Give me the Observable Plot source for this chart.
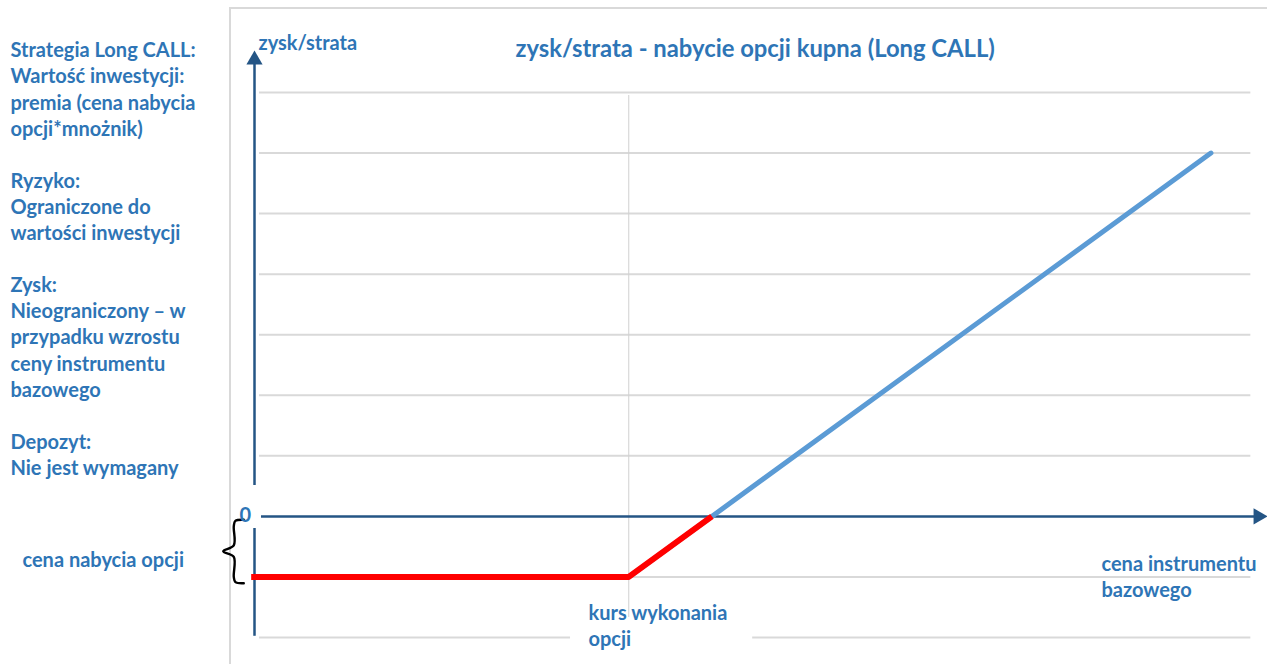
<!DOCTYPE html>
<html><head><meta charset="utf-8">
<script src="https://cdn.jsdelivr.net/npm/d3@7"></script>
<script src="https://cdn.jsdelivr.net/npm/@observablehq/plot@0.6"></script>
<style>
body{margin:0;background:#fff;}
#wrap{position:relative;width:1267px;height:664px;overflow:hidden;background:#fff;}
#frame{position:absolute;left:229px;top:7px;right:-5px;bottom:-5px;border-left:2px solid #d9d9d9;border-top:2px solid #d9d9d9;}
#wrap svg{position:absolute;left:0;top:0;}
</style></head><body><div id="wrap"><div id="frame"></div></div>
<script>
// ---- data ----
const payoffX = [6, 10, 17];          // cena instrumentu bazowego (blue payoff line)
const payoffY = [-1, -1, 6];          // zysk/strata
const lossX = [5.46, 10, 11];         // red: loss zone up to break-even
const lossY = [-1, -1, 0];
const gridY = [-2, -1, 1, 2, 3, 4, 5, 6, 7];
const gridXStart = 5.56, gridXEnd = 17.48;
const strikeX = 10;

const leftText = "Strategia Long CALL:\nWartość inwestycji:\npremia (cena nabycia\nopcji*mnożnik)\n\nRyzyko:\nOgraniczone do\nwartości inwestycji\n\nZysk:\nNieograniczony – w\nprzypadku wzrostu\nceny instrumentu\nbazowego\n\nDepozyt:\nNie jest wymagany";
const titleText = "zysk/strata - nabycie opcji kupna (Long CALL)";
const startLabels = [
  {x: 2.566, y: 7.886, text: leftText},
  {x: 5.548, y: 8.007, text: "zysk/strata"},
  {x: 2.71, y: -0.527, text: "cena nabycia opcji"},
  {x: 9.516, y: -1.402, text: "kurs wykonania\nopcji"},
  {x: 15.684, y: -0.593, text: "cena instrumentu\nbazowego"}
];
const middleLabels = [
  {x: 5.39, y: 0.221, text: "0"}
];
const titleLabel = [{x: 11.52, y: 7.946, text: titleText}];
const braceX = [5.371, 5.27, 5.251, 5.251, 5.124, 5.251, 5.251, 5.27, 5.371];
const braceY = [-0.056, -0.075, -0.16, -0.48, -0.575, -0.67, -1.0, -1.085, -1.103];
const xAxisLine = [{x1: 5.584, x2: 17.54, y: 0}];
const yAxisLines = [{x: 5.5, y1: 7.49, y2: 0.51}, {x: 5.5, y1: -0.2, y2: -1.98}];
const arrowHeads = [{x: 17.569, y: 0, rotate: 90}, {x: 5.5, y: 7.541, rotate: 0}];
const labelBox = [{x1: 9.30, x2: 11.49, y1: -1.31, y2: -2.25}];
const dropLine = [{x: strikeX, y1: 6.95, y2: -1.67}];

const axisColor = "#245585";
const textColor = "#2E75B6";
const font = "Lato";
const textOpts = {x: "x", y: "y", text: "text", lineAnchor: "top", lineHeight: 1.305,
  fill: textColor, fontFamily: font, fontWeight: "bold", fontSize: 20};

const chart = Plot.plot({
  width: 1267, height: 664,
  marginLeft: 254, marginRight: 15, marginTop: 92, marginBottom: 27,
  x: {domain: [5.5, 17.5], axis: null},
  y: {domain: [-2, 7], axis: null},
  style: {background: "transparent", overflow: "visible"},
  marks: [
    Plot.ruleY(gridY, {x1: gridXStart, x2: gridXEnd, stroke: "#d9d9d9", strokeWidth: 2}),
    Plot.rect(labelBox, {x1: "x1", x2: "x2", y1: "y1", y2: "y2", fill: "white"}),
    Plot.ruleX(dropLine, {x: "x", y1: "y1", y2: "y2", stroke: "#d0d0d0", strokeWidth: 1}),
    Plot.ruleY(xAxisLine, {y: "y", x1: "x1", x2: "x2", stroke: axisColor, strokeWidth: 2.5}),
    Plot.ruleX(yAxisLines, {x: "x", y1: "y1", y2: "y2", stroke: axisColor, strokeWidth: 2.5}),
    Plot.dot(arrowHeads, {x: "x", y: "y", rotate: "rotate", symbol: "triangle", r: 6, fill: axisColor, stroke: "none"}),
    Plot.line(payoffX.map((x, i) => ({x, y: payoffY[i]})), {x: "x", y: "y", stroke: "#5B9BD5", strokeWidth: 5, strokeLinecap: "round", strokeLinejoin: "round"}),
    Plot.line(lossX.map((x, i) => ({x, y: lossY[i]})), {x: "x", y: "y", stroke: "#FF0000", strokeWidth: 6, strokeLinecap: "butt", strokeLinejoin: "round"}),
    Plot.line(braceX.map((x, i) => ({x, y: braceY[i]})), {x: "x", y: "y", stroke: "black", strokeWidth: 2.4, curve: "catmull-rom"}),
    Plot.text(startLabels, {...textOpts, textAnchor: "start"}),
    Plot.text(middleLabels, {...textOpts, textAnchor: "middle"}),
    Plot.text(titleLabel, {...textOpts, textAnchor: "middle", fontSize: 23.8})
  ]
});
document.getElementById("wrap").appendChild(chart);
</script>
</body></html>
